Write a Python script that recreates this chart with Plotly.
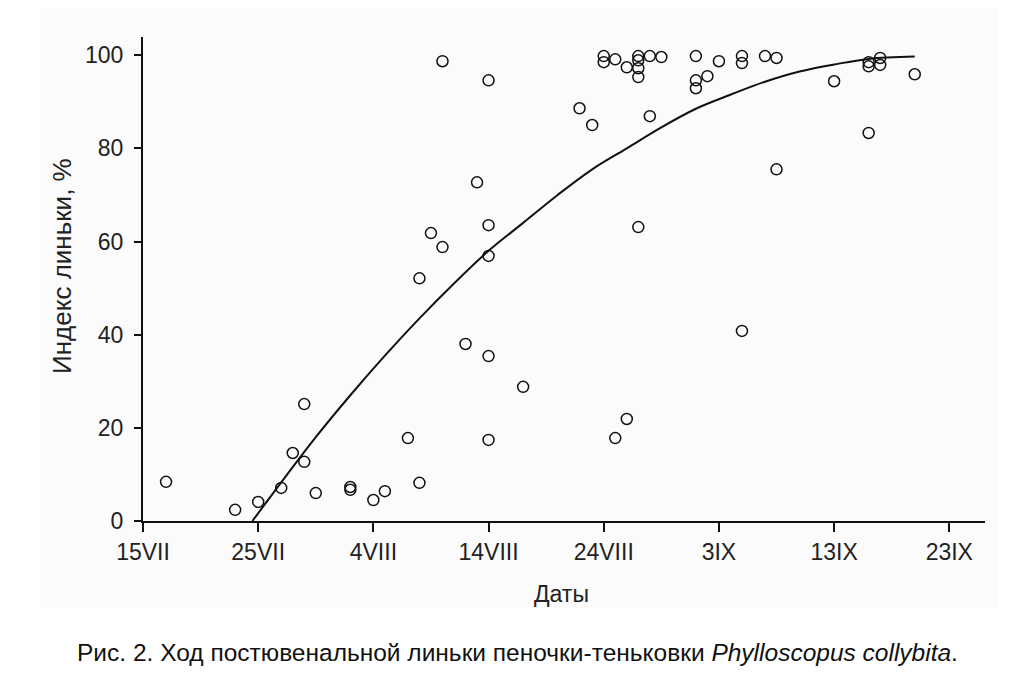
import plotly.graph_objects as go

# days counted from 15 July
day = [2, 8, 10, 12, 13, 14, 14, 15, 18, 18, 20, 21, 23, 24, 24, 25, 26, 26,
       28, 29, 30, 30, 30, 30, 30, 33, 37.9, 39, 40, 40, 41, 41, 42, 42,
       43, 43, 43, 43, 43, 44, 44, 45, 48, 48, 48, 49, 50, 52, 52, 52,
       54, 55, 55, 60, 63, 63, 63, 64, 64, 67]
moult = [8.4, 2.4, 4.1, 7.1, 14.6, 12.7, 25.1, 6.0, 6.7, 7.3, 4.5, 6.4, 17.8, 8.2, 52.1, 61.8, 98.7, 58.8,
         38.0, 72.7, 94.6, 63.5, 56.9, 35.4, 17.4, 28.8, 88.6, 85.0, 99.8, 98.5, 99.1, 17.8, 97.4, 21.9,
         99.8, 98.9, 97.2, 95.3, 63.1, 99.8, 86.9, 99.6, 99.8, 94.6, 92.9, 95.5, 98.7, 99.8, 98.3, 40.8,
         99.8, 99.4, 75.5, 94.4, 98.5, 97.6, 83.3, 99.4, 97.9, 95.9]

# trend curve
trend_day = [9.5, 12, 15, 18, 21, 24, 27, 30, 33, 36, 39, 42, 45, 48, 51, 54, 57, 60, 63, 67]
trend_val = [0, 8.3, 18, 27, 35.5, 43.5, 51, 58, 64, 70, 75.5, 80, 84.5, 88.5, 91.5, 94.3, 96.5, 98, 99.2, 99.7]

tick_days = [0, 10, 20, 30, 40, 50, 60, 70]
tick_labels = ['15VII', '25VII', '4VIII', '14VIII', '24VIII', '3IX', '13IX', '23IX']

font = 'Liberation Sans, Arial, sans-serif'
ink = '#111111'

fig = go.Figure()

fig.add_trace(go.Scatter(
    x=trend_day, y=trend_val, mode='lines',
    line=dict(color=ink, width=2, shape='spline'),
    hoverinfo='skip'
))

fig.add_trace(go.Scatter(
    x=day, y=moult, mode='markers',
    marker=dict(symbol='circle-open', size=11, color=ink, line=dict(width=1.5, color=ink))
))

# page has an 8px body margin, so the figure is a bit smaller than the window
fig.update_layout(
    width=1016, height=665,
    margin=dict(l=135, r=39, t=29, b=152),
    paper_bgcolor='white',
    plot_bgcolor='rgba(0,0,0,0)',
    showlegend=False,
    font=dict(family=font, size=23, color='#222222'),
    xaxis=dict(
        range=[0, 73.1], showgrid=False, zeroline=False,
        showline=True, linecolor=ink, linewidth=2,
        tickmode='array', tickvals=tick_days, ticktext=tick_labels,
        ticks='outside', ticklen=9, tickwidth=1.5, tickcolor=ink,
        tickfont=dict(size=23)
    ),
    yaxis=dict(
        range=[0, 103.9], showgrid=False, zeroline=False,
        showline=True, linecolor=ink, linewidth=2,
        tickvals=[0, 20, 40, 60, 80, 100],
        ticks='outside', ticklen=7, tickwidth=1.5, tickcolor=ink,
        tickfont=dict(size=23), ticklabelstandoff=6
    ),
    shapes=[dict(
        type='rect', xref='paper', yref='paper', layer='below',
        x0=-0.1223, x1=1.0143, y0=-0.1798, y1=1.0764,
        fillcolor='#fbfbfb', line=dict(width=0)
    )],
    annotations=[
        dict(text='Даты', xref='paper', yref='paper', x=0.4976, y=-0.151,
             showarrow=False, font=dict(size=23), xanchor='center', yanchor='middle'),
        dict(text='Индекс линьки, %', xref='paper', yref='paper', x=-0.0962, y=0.527,
             showarrow=False, textangle=-90, font=dict(size=26), xanchor='center', yanchor='middle'),
        dict(text='Рис. 2. Ход постювенальной линьки пеночки-теньковки <i>Phylloscopus collybita</i>.',
             xref='paper', yref='paper', x=0.445, y=-0.271,
             showarrow=False, font=dict(size=24.5, color='#111111'), xanchor='center', yanchor='middle'),
    ]
)

fig.write_html('out.html')
